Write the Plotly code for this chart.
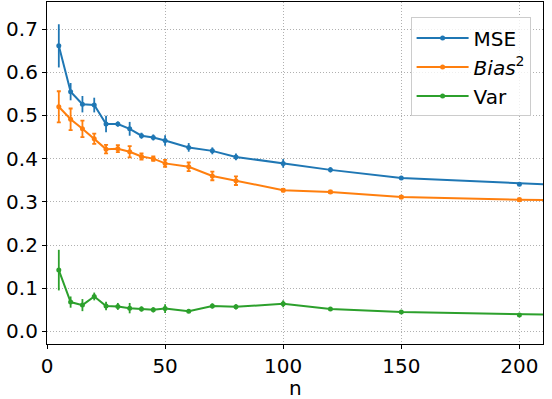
import plotly.graph_objects as go

# sample sizes (last point lies beyond the visible x range)
n = [5, 10, 15, 20, 25, 30, 35, 40, 45, 50, 60, 70, 80, 100, 120, 150, 200, 250]

mse = [0.661, 0.555, 0.526, 0.524, 0.480, 0.480, 0.469, 0.453, 0.449, 0.442,
       0.426, 0.418, 0.404, 0.389, 0.374, 0.355, 0.341, 0.331]
mse_err = [0.050, 0.020, 0.019, 0.017, 0.019, 0.006, 0.016, 0.007, 0.007, 0.012,
           0.010, 0.008, 0.008, 0.010, 0.006, 0.004, 0.004, 0.004]

bias2 = [0.520, 0.491, 0.469, 0.446, 0.422, 0.423, 0.416, 0.405, 0.400, 0.389,
         0.381, 0.360, 0.349, 0.327, 0.323, 0.311, 0.305, 0.302]
bias2_err = [0.036, 0.025, 0.019, 0.012, 0.010, 0.008, 0.013, 0.007, 0.005, 0.008,
             0.010, 0.010, 0.010, 0.003, 0.003, 0.003, 0.003, 0.003]

var = [0.142, 0.068, 0.061, 0.081, 0.059, 0.058, 0.054, 0.052, 0.050, 0.053,
       0.047, 0.059, 0.057, 0.064, 0.052, 0.045, 0.038, 0.035]
var_err = [0.047, 0.013, 0.014, 0.009, 0.010, 0.008, 0.012, 0.006, 0.006, 0.010,
           0.003, 0.006, 0.006, 0.008, 0.004, 0.003, 0.002, 0.002]

series = [
    ("MSE", mse, mse_err, "#1f77b4", 0),
    ("<i>Bias</i><sup>2</sup>", bias2, bias2_err, "#ff7f0e", 2),
    ("Var", var, var_err, "#2ca02c", 0),
]

fig = go.Figure()
for name, y, err, color, cap in series:
    fig.add_trace(go.Scatter(
        x=n, y=y, name=name, mode="lines+markers",
        line=dict(color=color, width=2),
        marker=dict(color=color, size=5),
        error_y=dict(type="data", array=err, color=color, thickness=1.8, width=cap),
    ))

axis_style = dict(
    showline=True, mirror=True, linecolor="black", linewidth=1.2,
    ticks="outside", ticklen=4, tickcolor="black",
    showgrid=True, gridcolor="#b0b0b0", griddash="1px,2px", gridwidth=1,
    zeroline=False, tickfont=dict(size=20, color="black"), automargin=False,
)

fig.update_layout(
    width=552, height=399,
    margin=dict(l=47, r=9, t=2, b=55),
    plot_bgcolor="white", paper_bgcolor="white",
    font=dict(family="DejaVu Sans", size=20, color="black"),
    showlegend=True,
    legend=dict(
        x=0.975, y=0.955, xanchor="right", yanchor="top",
        bgcolor="rgba(255,255,255,0.8)", bordercolor="#cccccc", borderwidth=1,
        font=dict(size=20), itemwidth=52,
    ),
    xaxis=dict(range=[0, 210], tickvals=[0, 50, 100, 150, 200], **axis_style),
    yaxis=dict(range=[-0.029, 0.7625], tickvals=[0, 0.1, 0.2, 0.3, 0.4, 0.5, 0.6, 0.7],
               tickformat=".1f", **axis_style),
)

# x-axis label placed by hand, standoff is ignored without automargin
fig.add_annotation(text="n", xref="paper", yref="paper", x=0.5, y=-0.13,
                   xanchor="center", yanchor="middle", showarrow=False,
                   font=dict(size=20, color="black"))

# drop the browser's default body margin so the figure sits at the page corner
fig.write_html("out.html", config={"displayModeBar": False},
               post_script="document.body.style.margin='0';")
